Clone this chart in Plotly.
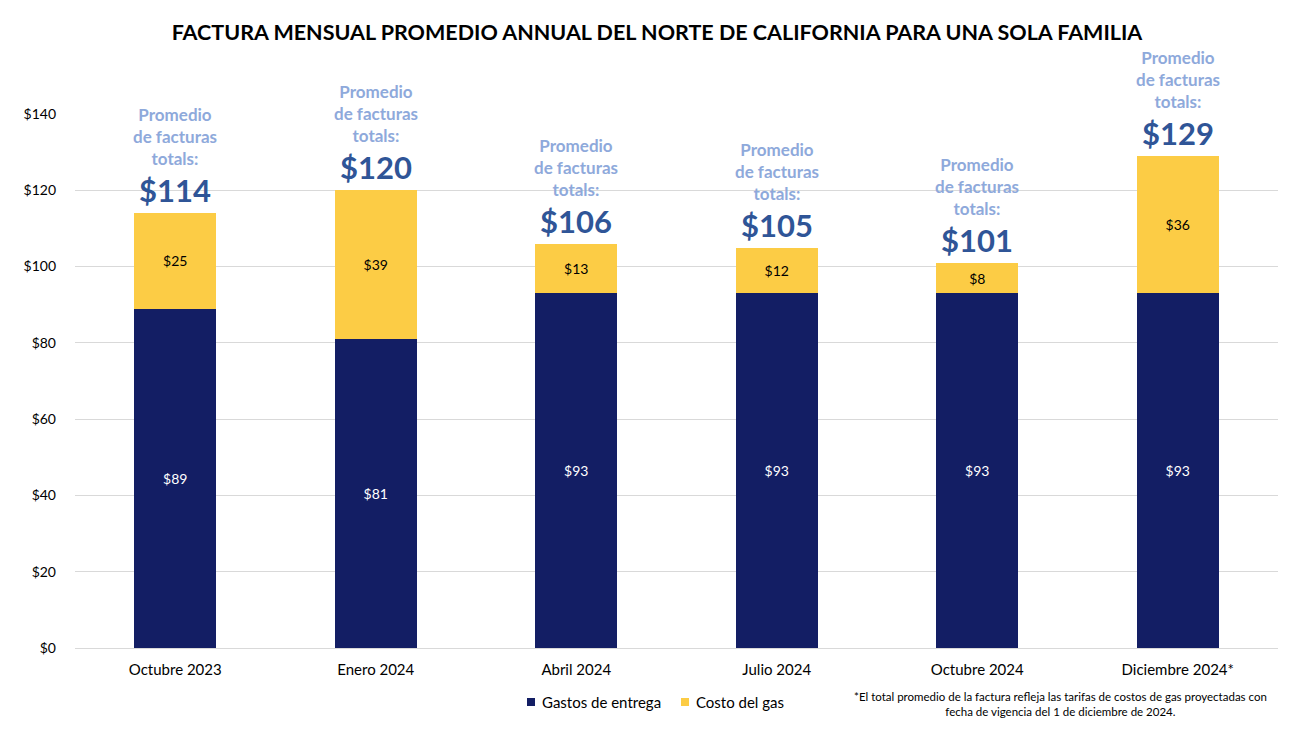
import plotly.graph_objects as go

categories = ["Octubre 2023", "Enero 2024", "Abril 2024", "Julio 2024", "Octubre 2024", "Diciembre 2024*"]
delivery = [89, 81, 93, 93, 93, 93]
gas = [25, 39, 13, 12, 8, 36]
totals = [114, 120, 106, 105, 101, 129]
tick_vals = [0, 20, 40, 60, 80, 100, 120, 140]
tick_text = ["$0", "$20", "$40", "$60", "$80", "$100", "$120", "$140"]
series_names = ["Gastos de entrega", "Costo del gas"]

FONT = "Lato, Calibri, Carlito, sans-serif"
NAVY = "#131E64"
YELLOW = "#FCCC45"

# page body has an 8px margin; compensate
OFF = 8
W, H = 1314 - OFF, 733 - OFF
ml, mr, mt, mb = 75 - OFF, 36, 114 - OFF, 85
pw, ph = W - ml - mr, H - mt - mb


def px_x(x):
    return (x - OFF - ml) / pw


def px_y(y):
    return (H - mb - (y - OFF)) / ph


fig = go.Figure()
fig.add_trace(go.Bar(
    x=categories, y=delivery, name=series_names[0],
    marker=dict(color=NAVY, line=dict(width=0)),
    text=[f"${v}" for v in delivery], textposition="inside", insidetextanchor="middle",
    textfont=dict(color="white", size=14, family=FONT),
))
fig.add_trace(go.Bar(
    x=categories, y=gas, name=series_names[1],
    marker=dict(color=YELLOW, line=dict(width=0)),
    text=[f"${v}" for v in gas], textposition="inside", insidetextanchor="middle",
    textfont=dict(color="black", size=14, family=FONT),
))

annotations = []
for c, t in zip(categories, totals):
    annotations.append(dict(
        x=c, y=t, xref="x", yref="y", yanchor="bottom", yshift=2,
        text=f"<b>${t}</b>", showarrow=False,
        font=dict(size=31, color="#2F5597", family=FONT),
    ))
    annotations.append(dict(
        x=c, y=t, xref="x", yref="y", yanchor="bottom", yshift=42,
        text="<b>Promedio<br>de facturas<br>totals:</b>", showarrow=False,
        font=dict(size=17, color="#8EA9DB", family=FONT),
    ))

annotations.append(dict(
    x=px_x(1060), y=px_y(704), xref="paper", yref="paper", showarrow=False,
    xanchor="center", yanchor="middle", align="center",
    text="*El total promedio de la factura refleja las tarifas de costos de gas proyectadas con<br>fecha de vigencia del 1 de diciembre de 2024.",
    font=dict(size=11.5, color="black", family=FONT),
))

# custom legend
shapes = []
legend_items = [(527, 540, NAVY, series_names[0]), (681, 694, YELLOW, series_names[1])]
for sx, tx, col, name in legend_items:
    shapes.append(dict(type="rect", xref="paper", yref="paper",
                       x0=px_x(sx), x1=px_x(sx + 8), y0=px_y(706), y1=px_y(698),
                       fillcolor=col, line=dict(width=0)))
    annotations.append(dict(x=px_x(tx), y=px_y(702), xref="paper", yref="paper",
                            xanchor="left", yanchor="middle", showarrow=False,
                            text=name, font=dict(size=15, color="black", family=FONT)))

fig.update_layout(
    width=W, height=H,
    margin=dict(l=ml, r=mr, t=mt, b=mb),
    paper_bgcolor="white", plot_bgcolor="white",
    barmode="stack", bargap=0.59, showlegend=False,
    title=dict(text="<b>FACTURA MENSUAL PROMEDIO ANNUAL DEL NORTE DE CALIFORNIA PARA UNA SOLA FAMILIA</b>",
               x=px_x(657), xanchor="center", xref="paper", y=1 - (32 - OFF) / H, yanchor="middle",
               font=dict(size=21.5, color="black", family=FONT)),
    font=dict(family=FONT, color="black", size=14),
    xaxis=dict(showgrid=False, showline=True, linecolor="#D9D9D9", linewidth=1,
               tickfont=dict(size=15, color="black"), ticks="", ticklabelstandoff=8),
    yaxis=dict(range=[0, 140], tickvals=tick_vals, ticktext=tick_text,
               showgrid=True, gridcolor="#D9D9D9", gridwidth=1, zeroline=False,
               tickfont=dict(size=14, color="black"), ticks="", ticklabelstandoff=18),
    annotations=annotations,
    shapes=shapes,
)
fig.write_html("out.html")
